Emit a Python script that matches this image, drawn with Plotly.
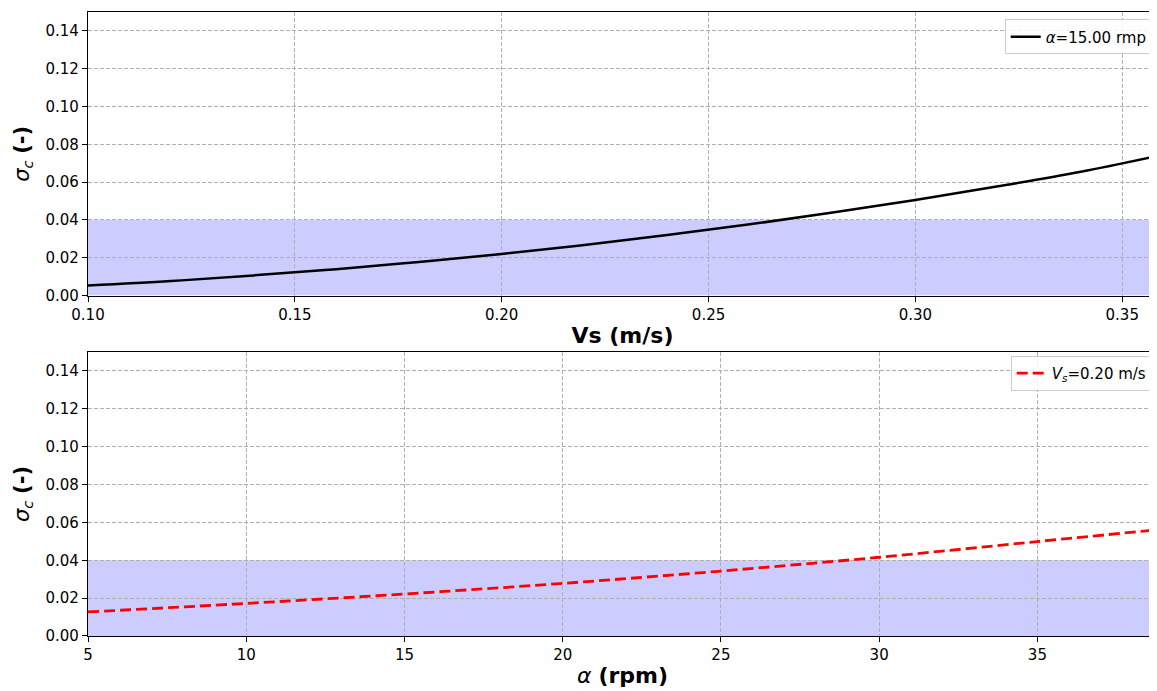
import plotly.graph_objects as go

# Top panel: sigma_c vs Vs at alpha = 15 rpm
vs_values = [0.10, 0.12, 0.14, 0.16, 0.18, 0.20, 0.22, 0.24, 0.26, 0.28, 0.30, 0.32, 0.34, 0.3584]
sigma_vs = [0.0053, 0.0077, 0.0107, 0.0140, 0.0178, 0.0220, 0.0268, 0.0320, 0.0377, 0.0439, 0.0506, 0.0578, 0.0655, 0.0738]

# Bottom panel: sigma_c vs alpha at Vs = 0.20 m/s
alpha_values = [5, 10, 15, 20, 25, 30, 35, 38.78]
sigma_alpha = [0.0127, 0.0172, 0.0222, 0.0278, 0.0343, 0.0416, 0.0499, 0.0561]

band_low, band_high = 0.0, 0.04
y_ticks = [0.00, 0.02, 0.04, 0.06, 0.08, 0.10, 0.12, 0.14]
top_xticks = [0.10, 0.15, 0.20, 0.25, 0.30, 0.35]
bot_xticks = [5, 10, 15, 20, 25, 30, 35]

FONT = "DejaVu Sans"
fig = go.Figure()

fig.add_trace(go.Scatter(x=vs_values, y=sigma_vs, mode="lines", line=dict(color="black", width=2.5, shape="spline"),
                         name="<i>α</i>=15.00 rmp", xaxis="x", yaxis="y", legend="legend"))
fig.add_trace(go.Scatter(x=alpha_values, y=sigma_alpha, mode="lines",
                         line=dict(color="red", width=2.8, dash="11px,5px", shape="spline"),
                         name="<i>V</i><sub><i>s</i></sub>=0.20 m/s", xaxis="x2", yaxis="y2", legend="legend2"))

# shaded bands
fig.add_shape(type="rect", xref="x domain", yref="y", x0=0, x1=1, y0=band_low, y1=band_high,
              fillcolor="rgba(0,0,255,0.2)", line_width=0, layer="below")
fig.add_shape(type="rect", xref="x2 domain", yref="y2", x0=0, x1=1, y0=band_low, y1=band_high,
              fillcolor="rgba(0,0,255,0.2)", line_width=0, layer="below")

axis_common = dict(showline=True, linecolor="black", linewidth=1.2, ticks="outside", ticklen=5,
                   tickwidth=1, tickcolor="black", showgrid=True, gridcolor="#b0b0b0", griddash="4px,2px",
                   gridwidth=1, zeroline=False, tickfont=dict(family=FONT, size=15, color="black"))

fig.update_layout(
    width=1149, height=683,
    margin=dict(l=80, r=0, t=4, b=55),
    plot_bgcolor="white", paper_bgcolor="white",
    font=dict(family=FONT, color="black"),
    xaxis=dict(axis_common, domain=[0, 1], anchor="y", range=[0.10, 0.3584], tickvals=top_xticks,
               tickformat=".2f", mirror=True,
               title=dict(text="<b>Vs (m/s)</b>", font=dict(family=FONT, size=22), standoff=4)),
    yaxis=dict(axis_common, domain=[0.5455, 1.0], anchor="x", range=[0, 0.15], tickvals=y_ticks,
               tickformat=".2f",
               title=dict(text="<i>σ</i><sub><i>c</i></sub> <b>(-)</b>", font=dict(family=FONT, size=21), standoff=10)),
    xaxis2=dict(axis_common, domain=[0, 1], anchor="y2", range=[5, 38.78], tickvals=bot_xticks, mirror=True,
                title=dict(text="<i>α</i> <b>(rpm)</b>", font=dict(family=FONT, size=22), standoff=4)),
    yaxis2=dict(axis_common, domain=[0, 0.4551], anchor="x2", range=[0, 0.15], tickvals=y_ticks,
                tickformat=".2f",
                title=dict(text="<i>σ</i><sub><i>c</i></sub> <b>(-)</b>", font=dict(family=FONT, size=21), standoff=10)),
    legend=dict(x=0.996, y=0.988, xanchor="right", yanchor="top", bgcolor="rgba(255,255,255,0.85)",
                bordercolor="#cccccc", borderwidth=1, font=dict(family=FONT, size=15)),
    legend2=dict(x=0.996, y=0.449, xanchor="right", yanchor="top", bgcolor="rgba(255,255,255,0.85)",
                 bordercolor="#cccccc", borderwidth=1, font=dict(family=FONT, size=15)),
    showlegend=True,
)

fig.write_html("out.html")
